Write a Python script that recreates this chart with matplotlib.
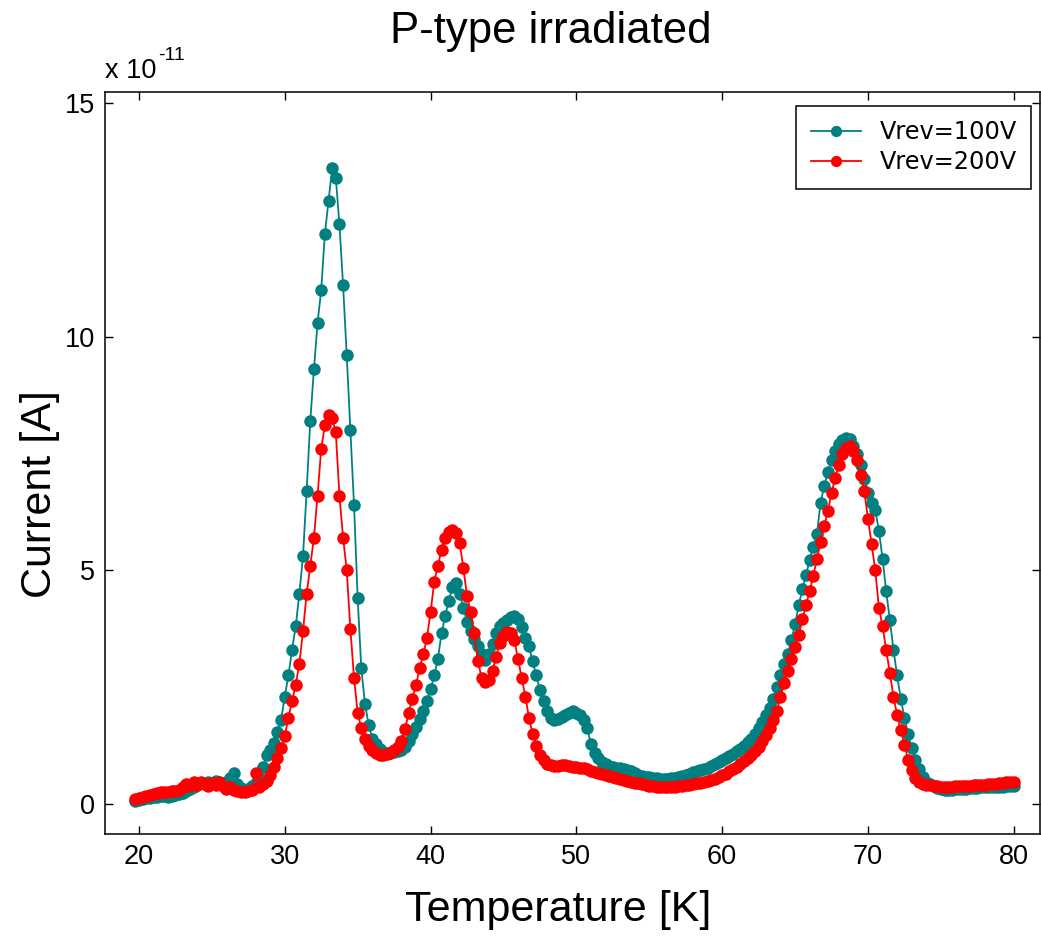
"""TSC scan of the irradiated p-type diode at two reverse biases."""

import matplotlib

matplotlib.use("Agg")
import matplotlib.pyplot as plt
import numpy as np

W, H = 1041, 936
TEAL = "#008080"
RED = "#FF0000"
FONT = "Liberation Sans"

# temperature grid [K], 0.25 K steps
temperature = np.arange(19.75, 80.01, 0.25)

# current in units of 1e-11 A, one row = 2 K starting at the commented temperature
current_100v = [
    0.07, 0.08, 0.10, 0.12, 0.13, 0.14, 0.16, 0.18,  # 19.75
    0.17, 0.16, 0.18, 0.20, 0.22, 0.24, 0.28, 0.32,  # 21.75
    0.36, 0.40, 0.45, 0.42, 0.48, 0.44, 0.50, 0.46,  # 23.75
    0.42, 0.48, 0.55, 0.66, 0.42, 0.35, 0.30, 0.32,  # 25.75
    0.38, 0.45, 0.55, 0.80, 1.05, 1.15, 1.30, 1.55,  # 27.75
    1.80, 2.30, 2.75, 3.30, 3.80, 4.50, 5.30, 6.70,  # 29.75
    8.20, 9.30, 10.30, 11.00, 12.20, 12.90, 13.60, 13.40,  # 31.75
    12.40, 11.10, 9.60, 8.00, 6.40, 4.40, 2.90, 2.15,  # 33.75
    1.70, 1.40, 1.28, 1.18, 1.12, 1.10, 1.10, 1.12,  # 35.75
    1.13, 1.15, 1.22, 1.35, 1.50, 1.65, 1.82, 2.00,  # 37.75
    2.20, 2.45, 2.75, 3.10, 3.65, 4.02, 4.35, 4.65,  # 39.75
    4.72, 4.50, 4.20, 3.90, 3.70, 3.52, 3.38, 3.20,  # 41.75
    3.08, 3.20, 3.42, 3.65, 3.80, 3.88, 3.93, 4.00,  # 43.75
    4.03, 3.95, 3.78, 3.55, 3.38, 3.05, 2.75, 2.44,  # 45.75
    2.20, 1.98, 1.85, 1.80, 1.82, 1.86, 1.90, 1.95,  # 47.75
    1.98, 1.95, 1.90, 1.80, 1.62, 1.28, 1.10, 0.98,  # 49.75
    0.90, 0.85, 0.82, 0.80, 0.78, 0.76, 0.74, 0.72,  # 51.75
    0.70, 0.67, 0.63, 0.60, 0.58, 0.57, 0.56, 0.55,  # 53.75
    0.54, 0.54, 0.54, 0.55, 0.56, 0.58, 0.60, 0.62,  # 55.75
    0.65, 0.68, 0.70, 0.72, 0.75, 0.78, 0.82, 0.86,  # 57.75
    0.90, 0.94, 0.98, 1.03, 1.08, 1.13, 1.18, 1.25,  # 59.75
    1.33, 1.40, 1.50, 1.62, 1.75, 1.90, 2.06, 2.25,  # 61.75
    2.50, 2.75, 3.00, 3.20, 3.50, 3.85, 4.25, 4.60,  # 63.75
    4.90, 5.22, 5.50, 5.78, 6.45, 6.80, 7.10, 7.35,  # 65.75
    7.55, 7.70, 7.78, 7.83, 7.80, 7.65, 7.48, 7.25,  # 67.75
    6.95, 6.65, 6.45, 6.30, 5.85, 5.25, 4.55, 3.94,  # 69.75
    3.30, 2.75, 2.25, 1.85, 1.50, 1.20, 0.95, 0.75,  # 71.75
    0.58, 0.48, 0.42, 0.38, 0.35, 0.32, 0.31, 0.30,  # 73.75
    0.31, 0.32, 0.32, 0.33, 0.33, 0.34, 0.35, 0.35,  # 75.75
    0.36, 0.36, 0.36, 0.37, 0.37, 0.37, 0.37, 0.38,  # 77.75
    0.38, 0.38,  # 79.75
]

current_200v = [
    0.10, 0.12, 0.15, 0.18, 0.20, 0.22, 0.24, 0.25,  # 19.75
    0.26, 0.25, 0.27, 0.28, 0.30, 0.36, 0.42, 0.38,  # 21.75
    0.46, 0.40, 0.48, 0.42, 0.38, 0.45, 0.40, 0.47,  # 23.75
    0.38, 0.33, 0.36, 0.30, 0.27, 0.25, 0.26, 0.27,  # 25.75
    0.30, 0.66, 0.36, 0.42, 0.50, 0.62, 0.80, 0.98,  # 27.75
    1.20, 1.45, 1.85, 2.20, 2.55, 3.00, 3.70, 4.50,  # 29.75
    5.10, 5.70, 6.60, 7.60, 8.10, 8.32, 8.25, 7.95,  # 31.75
    6.60, 5.70, 5.00, 3.75, 2.70, 1.95, 1.62, 1.40,  # 33.75
    1.25, 1.15, 1.10, 1.05, 1.05, 1.07, 1.10, 1.15,  # 35.75
    1.22, 1.35, 1.60, 1.95, 2.25, 2.55, 2.90, 3.20,  # 37.75
    3.55, 4.10, 4.75, 5.10, 5.44, 5.70, 5.82, 5.86,  # 39.75
    5.80, 5.58, 5.05, 4.45, 4.10, 3.65, 3.05, 2.70,  # 41.75
    2.60, 2.65, 2.85, 3.15, 3.45, 3.60, 3.68, 3.65,  # 43.75
    3.50, 3.10, 2.70, 2.30, 1.85, 1.50, 1.25, 1.05,  # 45.75
    0.94, 0.86, 0.83, 0.82, 0.82, 0.83, 0.83, 0.82,  # 47.75
    0.80, 0.79, 0.78, 0.77, 0.74, 0.71, 0.69, 0.67,  # 49.75
    0.64, 0.62, 0.60, 0.58, 0.56, 0.53, 0.51, 0.49,  # 51.75
    0.46, 0.45, 0.44, 0.42, 0.40, 0.39, 0.38, 0.37,  # 53.75
    0.37, 0.37, 0.37, 0.37, 0.37, 0.38, 0.39, 0.40,  # 55.75
    0.41, 0.43, 0.44, 0.45, 0.47, 0.49, 0.51, 0.54,  # 57.75
    0.58, 0.61, 0.65, 0.70, 0.75, 0.80, 0.85, 0.92,  # 59.75
    0.98, 1.05, 1.13, 1.22, 1.34, 1.47, 1.63, 1.80,  # 61.75
    2.00, 2.28, 2.58, 2.85, 3.10, 3.36, 3.62, 3.95,  # 63.75
    4.25, 4.55, 4.88, 5.25, 5.60, 5.95, 6.27, 6.65,  # 65.75
    6.98, 7.25, 7.48, 7.62, 7.66, 7.55, 7.35, 7.05,  # 67.75
    6.70, 6.10, 5.56, 5.00, 4.20, 3.80, 3.30, 2.80,  # 69.75
    2.30, 1.90, 1.58, 1.27, 0.95, 0.72, 0.55, 0.46,  # 71.75
    0.42, 0.41, 0.40, 0.39, 0.38, 0.37, 0.37, 0.37,  # 73.75
    0.37, 0.38, 0.38, 0.38, 0.39, 0.39, 0.40, 0.40,  # 75.75
    0.41, 0.41, 0.42, 0.43, 0.43, 0.44, 0.45, 0.46,  # 77.75
    0.47, 0.47,  # 79.75
]

labels = ["Vrev=100V", "Vrev=200V"]
x_ticks = [20, 30, 40, 50, 60, 70, 80]
y_ticks = [0, 5, 10, 15]

assert len(current_100v) == len(temperature) == len(current_200v)

fig = plt.figure(figsize=(W / 100, H / 100), dpi=100, facecolor="white")
ax = fig.add_axes([105 / W, 1 - 834 / H, (1040 - 105) / W, (834 - 92) / H])

style = dict(marker="o", ms=9, mew=0, lw=1.3)
ax.plot(temperature, current_100v, color=TEAL, label=labels[0], **style)
ax.plot(temperature, current_200v, color=RED, label=labels[1], **style)

ax.set_xlim(17.67, 81.8)
ax.set_ylim(-0.642, 15.235)
ax.set_xticks(x_ticks)
ax.set_yticks(y_ticks)
ax.tick_params(direction="in", length=6, width=1, top=True, right=True, pad=7,
               labelsize=19.5, colors="black")
for lab in ax.get_xticklabels() + ax.get_yticklabels():
    lab.set_fontfamily(FONT)
for sp in ax.spines.values():
    sp.set_linewidth(1.1)

leg = ax.legend(loc="upper right", bbox_to_anchor=(1031 / W, 1 - 106 / H),
                bbox_transform=fig.transFigure, borderaxespad=0, numpoints=1,
                prop={"family": "DejaVu Sans", "size": 17.3}, fancybox=False,
                framealpha=1, edgecolor="black", handlelength=2.1,
                handletextpad=0.75, borderpad=0.6, labelspacing=0.25,
                markerscale=0.9)
leg.get_frame().set_linewidth(1.1)

fig.text(551 / W, 1 - 43 / H, "P-type irradiated", ha="center", va="baseline",
         fontsize=31.5, family=FONT)
fig.text(558 / W, 1 - 921 / H, "Temperature [K]", ha="center", va="baseline",
         fontsize=31, family=FONT)
fig.text(40 / W, 1 - 494 / H, "Current [A]", ha="center", va="center",
         rotation=90, fontsize=31, family=FONT)
fig.text(105 / W, 1 - 78 / H, "x 10", ha="left", va="baseline",
         fontsize=19.5, family=FONT)
fig.text(158 / W, 1 - 60 / H, "-11", ha="left", va="baseline",
         fontsize=14, family=FONT)

fig.savefig("out.png", dpi=100, facecolor="white")
